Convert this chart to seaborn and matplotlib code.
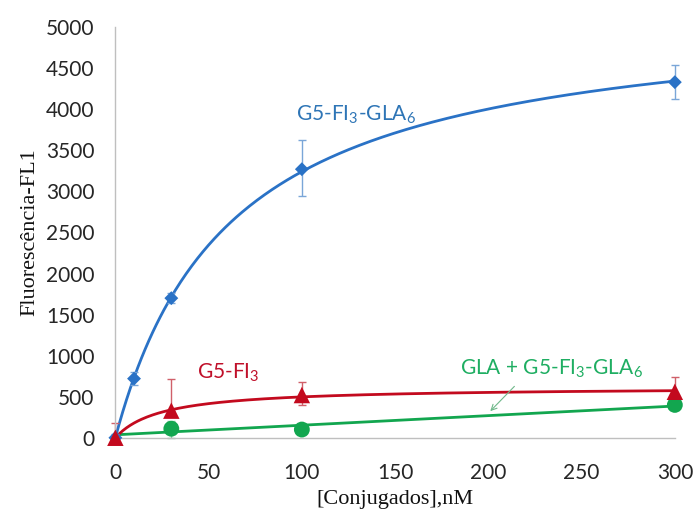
import numpy as np
import pandas as pd
import matplotlib
matplotlib.use("Agg")
import matplotlib.pyplot as plt
import seaborn as sns

# values
conc_blue = [0, 10, 30, 100, 300]
fl_blue = [0, 720, 1700, 3270, 4330]
blue_lo = [40, 80, 60, 330, 200]
blue_hi = [40, 80, 60, 350, 210]

conc_red = [0, 30, 100, 300]
fl_red = [0, 330, 520, 560]
red_lo = [0, 0, 120, 60]
red_hi = [180, 390, 160, 180]

conc_green = [30, 100, 300]
fl_green = [110, 100, 400]
green_lo = [110, 30, 20]
green_hi = [100, 30, 20]

x_ticks = [0, 50, 100, 150, 200, 250, 300]
y_ticks = list(range(0, 5001, 500))

c_blue = "#2a72c6"
c_red = "#c30a1e"
c_green = "#12a64f"

sns.set_style("white")
plt.rcParams["font.family"] = ["Lato", "DejaVu Sans"]


def hyperbola_fit(x, y):
    # one-site binding: Bmax*x/(Kd+x), grid over Kd, least squares Bmax
    x = np.asarray(x, float)
    y = np.asarray(y, float)
    best = None
    for kd in np.linspace(1, 300, 3000):
        f = x / (kd + x)
        bmax = (f @ y) / (f @ f)
        err = ((bmax * f - y) ** 2).sum()
        if best is None or err < best[0]:
            best = (err, bmax, kd)
    return best[1], best[2]


xs = np.linspace(0, 300, 301)
bm, kd = hyperbola_fit(conc_blue, fl_blue)
fit_blue = pd.DataFrame({"x": xs, "y": bm * xs / (kd + xs)})
bm, kd = hyperbola_fit(conc_red, fl_red)
fit_red = pd.DataFrame({"x": xs, "y": bm * xs / (kd + xs)})
slope, icpt = np.polyfit(conc_green, fl_green, 1)
fit_green = pd.DataFrame({"x": xs, "y": slope * xs + icpt})

fig = plt.figure(figsize=(6.95, 5.12), dpi=100)
ax = fig.add_axes([0.166, 0.145, 0.805, 0.802])

sns.lineplot(data=fit_green, x="x", y="y", color=c_green, lw=2, ax=ax)
sns.lineplot(data=fit_red, x="x", y="y", color=c_red, lw=2, ax=ax)
sns.lineplot(data=fit_blue, x="x", y="y", color=c_blue, lw=2, ax=ax)

for cx, cy, lo, hi, ec in [(conc_green, fl_green, green_lo, green_hi, "#7fc99a"),
                           (conc_red, fl_red, red_lo, red_hi, "#d0606a"),
                           (conc_blue, fl_blue, blue_lo, blue_hi, "#7aa6d8")]:
    eb = ax.errorbar(cx, cy, yerr=[lo, hi], fmt="none", ecolor=ec,
                     elinewidth=1, capsize=3)
    for art in eb.lines[1] + eb.lines[2]:
        art.set_clip_on(False)

for cx, cy, col, mk, sz in [(conc_green, fl_green, c_green, "o", 130),
                            (conc_blue, fl_blue, c_blue, "D", 50),
                            (conc_red, fl_red, c_red, "^", 140)]:
    sns.scatterplot(x=cx, y=cy, color=col, marker=mk, s=sz,
                    edgecolor="none", ax=ax, zorder=6, clip_on=False)

ax.set_xlim(0, 300)
ax.set_ylim(0, 5000)
ax.set_xticks(x_ticks)
ax.set_yticks(y_ticks)
ax.tick_params(axis="both", labelsize=15, colors="#bfbfbf", labelcolor="#262626",
               length=7, width=1, direction="out")
ax.tick_params(axis="x", pad=11)
ax.tick_params(axis="y", pad=8)
for s in ["top", "right"]:
    ax.spines[s].set_visible(False)
for s in ["left", "bottom"]:
    ax.spines[s].set_color("#bfbfbf")
    ax.spines[s].set_linewidth(1)

ax.set_xlabel("[Conjugados],nM", family="Liberation Serif", fontsize=16,
              color="#111111", labelpad=5)
ax.set_ylabel("Fluorescência-FL1", family="Liberation Serif", fontsize=16,
              color="#111111", labelpad=5)

ax.text(97, 3930, r"G5-FI$_\mathregular{3}$-GLA$_\mathregular{6}$", color="#2e75b6",
        fontsize=15, ha="left", va="center")
ax.text(44, 790, r"G5-FI$_\mathregular{3}$", color="#c0102a", fontsize=15,
        ha="left", va="center")
ax.text(185, 840, r"GLA + G5-FI$_\mathregular{3}$-GLA$_\mathregular{6}$",
        color="#1fae62", fontsize=15, ha="left", va="center")
ax.annotate("", xy=(200, 300), xytext=(215, 650),
            arrowprops=dict(arrowstyle="->", color="#6fb88a", lw=0.8))

fig.savefig("out.png", dpi=100)
